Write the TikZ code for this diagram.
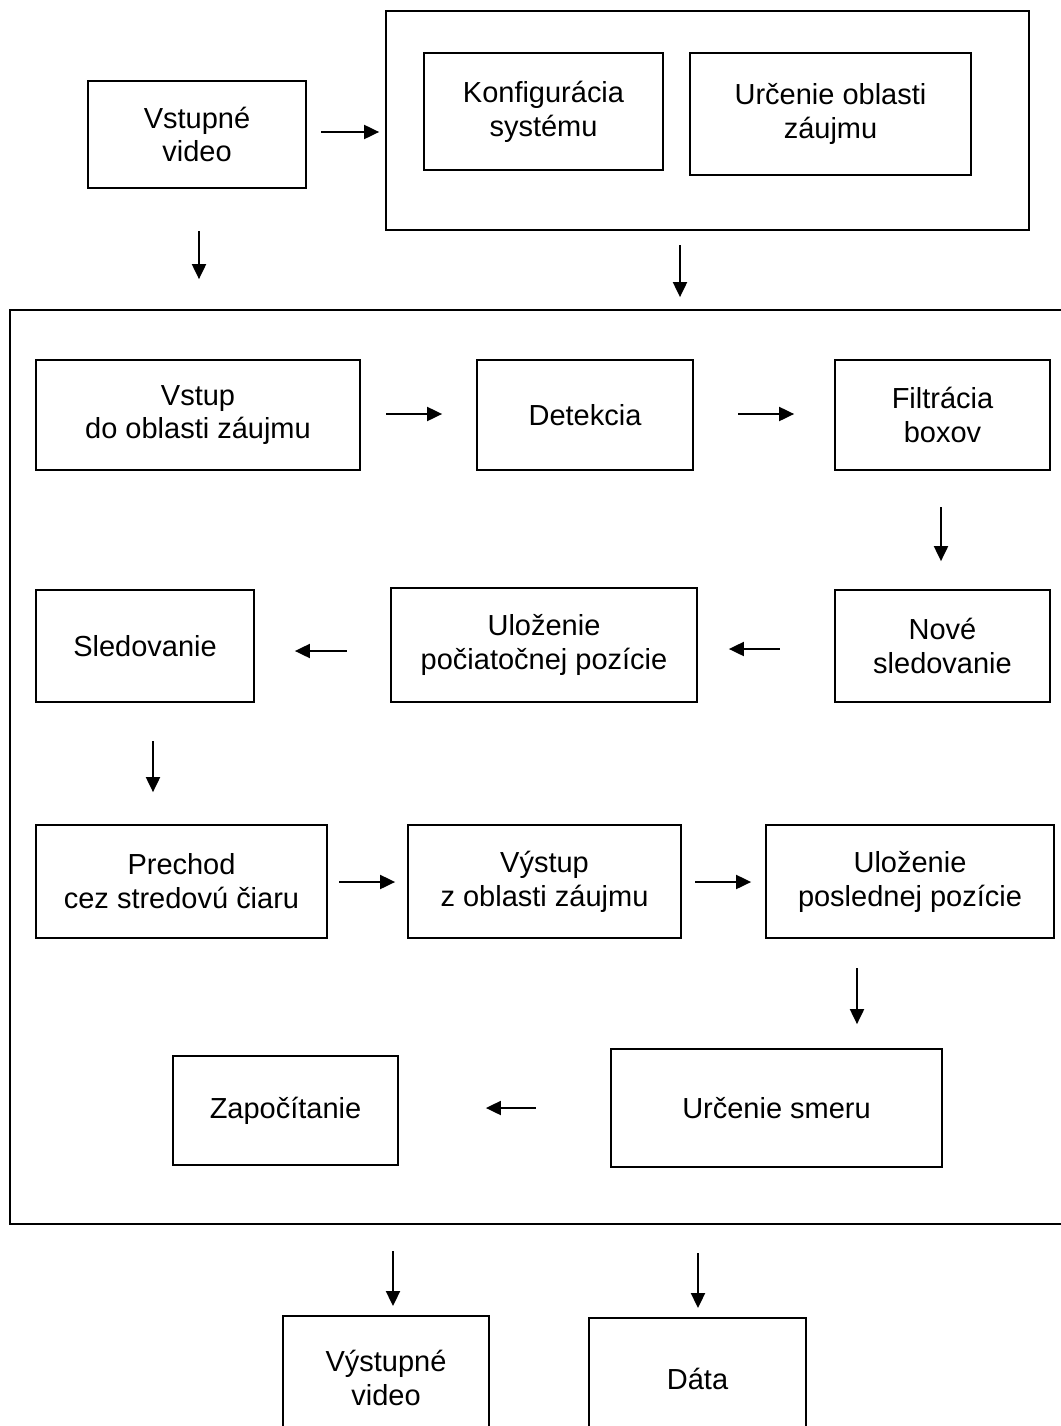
\documentclass[tikz,border=0pt]{standalone}
\usepackage{fontspec}
\setmainfont{Liberation Sans}
\usepackage{tikz}
\usetikzlibrary{arrows.meta, calc}

\begin{document}
\begin{tikzpicture}[x=0.02cm, y=-0.02cm, >={Triangle[length=0.3cm, width=0.28cm]},
        blk/.style={draw, line width=1.3pt, inner sep=0pt, align=center,
                    font=\fontsize{16.5}{19.3}\selectfont},
        frame/.style={draw, line width=1.3pt, inner sep=0pt},
        arr/.style={->, line width=1.1pt}]

      \useasboundingbox (0,0) rectangle (1061,1426);

      % top: input and configuration
      \node[blk, minimum width=4.36cm, minimum height=2.14cm] (vid) at (197,134.5) {Vstupné\\video};
      \node[frame, minimum width=12.86cm, minimum height=4.38cm] (cfgall) at (707.5,120.5) {};
      \node[blk, minimum width=4.78cm, minimum height=2.34cm] (cfg) at (543.5,111.5) {Konfigurácia\\systému};
      \node[blk, minimum width=5.62cm, minimum height=2.44cm] (roi) at (830.5,114) {Určenie oblasti\\záujmu};

      % main processing block
      \node[frame, minimum width=21.3cm, minimum height=18.28cm] (main) at (542.5,767) {};

      \node[blk, minimum width=6.48cm, minimum height=2.2cm] (in) at (198,415) {Vstup\\do oblasti záujmu};
      \node[blk, minimum width=4.32cm, minimum height=2.2cm] (det) at (585,415) {Detekcia};
      \node[blk, minimum width=4.3cm, minimum height=2.2cm] (filt) at (942.5,415) {Filtrácia\\boxov};

      \node[blk, minimum width=4.36cm, minimum height=2.24cm] (sled) at (145,646) {Sledovanie};
      \node[blk, minimum width=6.12cm, minimum height=2.28cm] (ulo) at (544,645) {Uloženie\\počiatočnej pozície};
      \node[blk, minimum width=4.3cm, minimum height=2.24cm] (nove) at (942.5,646) {Nové\\sledovanie};

      \node[blk, minimum width=5.82cm, minimum height=2.26cm] (prech) at (181.5,881.5) {Prechod\\cez stredovú čiaru};
      \node[blk, minimum width=5.46cm, minimum height=2.26cm] (vyst) at (544.5,881.5) {Výstup\\z oblasti záujmu};
      \node[blk, minimum width=5.76cm, minimum height=2.26cm] (ulp) at (910,881.5) {Uloženie\\poslednej pozície};

      \node[blk, minimum width=4.5cm, minimum height=2.18cm] (zap) at (285.5,1110.5) {Započítanie};
      \node[blk, minimum width=6.62cm, minimum height=2.36cm] (smer) at (776.5,1108) {Určenie smeru};

      % outputs
      \node[blk, minimum width=4.12cm, minimum height=2.48cm] (outv) at (386,1378) {Výstupné\\video};
      \node[blk, minimum width=4.34cm, minimum height=2.44cm] (data) at (697.5,1379) {Dáta};

      % arrows
      \draw[arr] ($(vid.east)+(14,-2.5)$) -- ++(58,0);
      \draw[arr] ($(vid.south)+(2,42)$) -- ++(0,48);
      \draw[arr] ($(cfgall.south)+(-27.5,14)$) -- ++(0,52);

      \draw[arr] ($(in.east)+(25,-1)$) -- ++(56,0);
      \draw[arr] ($(det.east)+(44,-1)$) -- ++(56,0);
      \draw[arr] ($(filt.south)+(-1.5,36)$) -- ++(0,54);
      \draw[arr] ($(nove.west)+(-54,3)$) -- ++(-51,0);
      \draw[arr] ($(ulo.west)+(-43,6)$) -- ++(-52,0);
      \draw[arr] ($(sled.south)+(8,38)$) -- ++(0,51);

      \draw[arr] ($(prech.east)+(11,0.5)$) -- ++(56,0);
      \draw[arr] ($(vyst.east)+(13,0.5)$) -- ++(56,0);
      \draw[arr] ($(ulp.south)+(-53,29)$) -- ++(0,56);
      \draw[arr] ($(smer.west)+(-74,0)$) -- ++(-50,0);

      \draw[arr] ($(main.south)+(-149.5,26)$) -- ++(0,55);
      \draw[arr] ($(main.south)+(155.5,28)$) -- ++(0,55);
\end{tikzpicture}
\end{document}
